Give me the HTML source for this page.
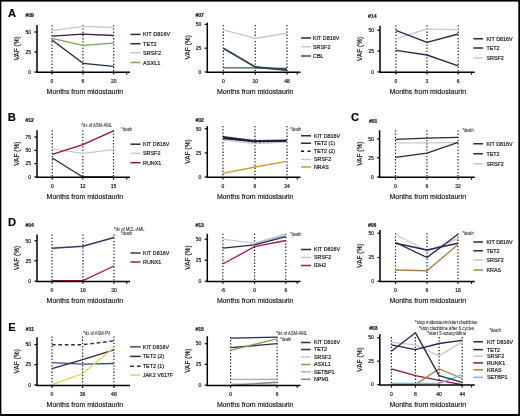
<!DOCTYPE html>
<html><head><meta charset="utf-8"><style>
html,body{margin:0;padding:0;background:#fff;}
#fig{position:relative;width:520px;height:416px;overflow:hidden;background:#fff;}
svg{position:absolute;left:0;top:0;font-family:"Liberation Sans", sans-serif;}
text{-webkit-font-smoothing:antialiased;stroke:#222;stroke-width:0.18px;}
text.ann{stroke:#333;stroke-width:0.05px;}
svg{will-change:transform;}

</style></head><body><div id="fig">
<svg width="520" height="416" viewBox="0 0 520 416">

<g>
<rect x="0" y="0" width="520" height="416" fill="#fff"/>
<line x1="52.00" y1="25.30" x2="52.00" y2="72.00" stroke="#1a1a1a" stroke-width="1.2" stroke-dasharray="1.3,1.9" stroke-linecap="butt"/>
<line x1="83.00" y1="25.30" x2="83.00" y2="72.00" stroke="#1a1a1a" stroke-width="1.2" stroke-dasharray="1.3,1.9" stroke-linecap="butt"/>
<line x1="113.70" y1="25.30" x2="113.70" y2="72.00" stroke="#1a1a1a" stroke-width="1.2" stroke-dasharray="1.3,1.9" stroke-linecap="butt"/>
<polyline points="52.00,30.60 83.00,26.30 113.70,27.50" fill="none" stroke="#c9c9c9" stroke-width="1.35" stroke-linejoin="round" stroke-linecap="butt"/>
<polyline points="52.00,36.20 83.00,34.10 113.70,35.50" fill="none" stroke="#33224a" stroke-width="1.35" stroke-linejoin="round" stroke-linecap="butt"/>
<polyline points="52.00,38.40 83.00,45.30 113.70,43.10" fill="none" stroke="#79a653" stroke-width="1.35" stroke-linejoin="round" stroke-linecap="butt"/>
<polyline points="52.00,40.00 83.00,63.30 113.70,66.40" fill="none" stroke="#1f2d4a" stroke-width="1.35" stroke-linejoin="round" stroke-linecap="butt"/>
<line x1="37.00" y1="24.90" x2="37.00" y2="72.70" stroke="#000" stroke-width="1.5" stroke-linecap="butt"/>
<line x1="36.30" y1="72.20" x2="130.00" y2="72.20" stroke="#000" stroke-width="1.45" stroke-linecap="butt"/>
<line x1="34.40" y1="32.00" x2="37.00" y2="32.00" stroke="#000" stroke-width="1.2" stroke-linecap="butt"/>
<text x="31.10" y="33.79" font-size="5" text-anchor="end" font-weight="normal" fill="#111">50</text>
<line x1="34.40" y1="52.00" x2="37.00" y2="52.00" stroke="#000" stroke-width="1.2" stroke-linecap="butt"/>
<text x="31.10" y="53.79" font-size="5" text-anchor="end" font-weight="normal" fill="#111">25</text>
<line x1="34.40" y1="72.00" x2="37.00" y2="72.00" stroke="#000" stroke-width="1.2" stroke-linecap="butt"/>
<text x="31.10" y="73.79" font-size="5" text-anchor="end" font-weight="normal" fill="#111">0</text>
<line x1="52.00" y1="72.00" x2="52.00" y2="74.60" stroke="#000" stroke-width="1.2" stroke-linecap="butt"/>
<line x1="83.00" y1="72.00" x2="83.00" y2="74.60" stroke="#000" stroke-width="1.2" stroke-linecap="butt"/>
<line x1="113.70" y1="72.00" x2="113.70" y2="74.60" stroke="#000" stroke-width="1.2" stroke-linecap="butt"/>
<line x1="126.75" y1="72.00" x2="126.75" y2="74.60" stroke="#000" stroke-width="1.2" stroke-linecap="butt"/>
<text x="52.00" y="82.89" font-size="5" text-anchor="middle" font-weight="normal" fill="#111">0</text>
<text x="83.00" y="82.89" font-size="5" text-anchor="middle" font-weight="normal" fill="#111">6</text>
<text x="113.70" y="82.89" font-size="5" text-anchor="middle" font-weight="normal" fill="#111">20</text>
<text transform="translate(19.30,48.45) rotate(-90)" x="0" y="0" font-size="7.3" text-anchor="middle" fill="#111" textLength="24.3" lengthAdjust="spacingAndGlyphs">VAF (%)</text>
<text x="84.90" y="93.75" font-size="7.4" text-anchor="middle" font-weight="normal" fill="#111" textLength="76.6" lengthAdjust="spacingAndGlyphs">Months from midostaurin</text>
<text x="25.40" y="17.03" font-size="5.1" text-anchor="start" font-weight="bold" fill="#111">#09</text>
<line x1="130.40" y1="34.40" x2="140.50" y2="34.40" stroke="#1f2d4a" stroke-width="1.5" stroke-linecap="butt"/>
<text x="143.00" y="36.40" font-size="5.6" text-anchor="start" font-weight="normal" fill="#111">KIT D816V</text>
<line x1="130.40" y1="43.70" x2="140.50" y2="43.70" stroke="#33224a" stroke-width="1.5" stroke-linecap="butt"/>
<text x="143.00" y="45.70" font-size="5.6" text-anchor="start" font-weight="normal" fill="#111">TET2</text>
<line x1="130.40" y1="52.80" x2="140.50" y2="52.80" stroke="#c9c9c9" stroke-width="1.5" stroke-linecap="butt"/>
<text x="143.00" y="54.80" font-size="5.6" text-anchor="start" font-weight="normal" fill="#111">SRSF2</text>
<line x1="130.40" y1="62.50" x2="140.50" y2="62.50" stroke="#79a653" stroke-width="1.5" stroke-linecap="butt"/>
<text x="143.00" y="64.50" font-size="5.6" text-anchor="start" font-weight="normal" fill="#111">ASXL1</text>
<line x1="223.30" y1="25.00" x2="223.30" y2="72.00" stroke="#1a1a1a" stroke-width="1.2" stroke-dasharray="1.3,1.9" stroke-linecap="butt"/>
<line x1="255.30" y1="25.00" x2="255.30" y2="72.00" stroke="#1a1a1a" stroke-width="1.2" stroke-dasharray="1.3,1.9" stroke-linecap="butt"/>
<line x1="287.00" y1="25.00" x2="287.00" y2="72.00" stroke="#1a1a1a" stroke-width="1.2" stroke-dasharray="1.3,1.9" stroke-linecap="butt"/>
<polyline points="223.30,29.90 255.30,38.50 287.00,33.00" fill="none" stroke="#c9c9c9" stroke-width="1.35" stroke-linejoin="round" stroke-linecap="butt"/>
<polyline points="255.30,67.60 287.00,69.60" fill="none" stroke="#7d9bb3" stroke-width="1.3" stroke-linejoin="round" stroke-linecap="butt"/>
<polyline points="223.30,67.90 255.30,67.90 287.00,68.40" fill="none" stroke="#3b5a58" stroke-width="1.35" stroke-linejoin="round" stroke-linecap="butt"/>
<polyline points="223.30,48.20 255.30,67.00 287.00,70.10" fill="none" stroke="#2a3d52" stroke-width="1.9" stroke-linejoin="round" stroke-linecap="butt"/>
<line x1="207.30" y1="22.60" x2="207.30" y2="72.70" stroke="#000" stroke-width="1.5" stroke-linecap="butt"/>
<line x1="206.60" y1="72.20" x2="300.50" y2="72.20" stroke="#000" stroke-width="1.45" stroke-linecap="butt"/>
<line x1="204.70" y1="24.40" x2="207.30" y2="24.40" stroke="#000" stroke-width="1.2" stroke-linecap="butt"/>
<text x="201.40" y="26.19" font-size="5" text-anchor="end" font-weight="normal" fill="#111">50</text>
<line x1="204.70" y1="48.20" x2="207.30" y2="48.20" stroke="#000" stroke-width="1.2" stroke-linecap="butt"/>
<text x="201.40" y="49.99" font-size="5" text-anchor="end" font-weight="normal" fill="#111">25</text>
<line x1="204.70" y1="72.00" x2="207.30" y2="72.00" stroke="#000" stroke-width="1.2" stroke-linecap="butt"/>
<text x="201.40" y="73.79" font-size="5" text-anchor="end" font-weight="normal" fill="#111">0</text>
<line x1="223.30" y1="72.00" x2="223.30" y2="74.60" stroke="#000" stroke-width="1.2" stroke-linecap="butt"/>
<line x1="255.30" y1="72.00" x2="255.30" y2="74.60" stroke="#000" stroke-width="1.2" stroke-linecap="butt"/>
<line x1="287.00" y1="72.00" x2="287.00" y2="74.60" stroke="#000" stroke-width="1.2" stroke-linecap="butt"/>
<line x1="297.25" y1="72.00" x2="297.25" y2="74.60" stroke="#000" stroke-width="1.2" stroke-linecap="butt"/>
<text x="223.30" y="82.89" font-size="5" text-anchor="middle" font-weight="normal" fill="#111">0</text>
<text x="255.30" y="82.89" font-size="5" text-anchor="middle" font-weight="normal" fill="#111">10</text>
<text x="287.00" y="82.89" font-size="5" text-anchor="middle" font-weight="normal" fill="#111">48</text>
<text transform="translate(189.60,47.30) rotate(-90)" x="0" y="0" font-size="7.3" text-anchor="middle" fill="#111" textLength="24.3" lengthAdjust="spacingAndGlyphs">VAF (%)</text>
<text x="255.20" y="93.75" font-size="7.4" text-anchor="middle" font-weight="normal" fill="#111" textLength="76.6" lengthAdjust="spacingAndGlyphs">Months from midostaurin</text>
<text x="195.40" y="17.43" font-size="5.1" text-anchor="start" font-weight="bold" fill="#111">#07</text>
<line x1="301.00" y1="38.00" x2="311.00" y2="38.00" stroke="#1f2d4a" stroke-width="1.5" stroke-linecap="butt"/>
<text x="313.00" y="39.93" font-size="5.4" text-anchor="start" font-weight="normal" fill="#111">KIT D816V</text>
<line x1="301.00" y1="46.75" x2="311.00" y2="46.75" stroke="#c9c9c9" stroke-width="1.5" stroke-linecap="butt"/>
<text x="313.00" y="48.68" font-size="5.4" text-anchor="start" font-weight="normal" fill="#111">SRSF2</text>
<line x1="301.00" y1="56.00" x2="311.00" y2="56.00" stroke="#2f4f4f" stroke-width="1.5" stroke-linecap="butt"/>
<text x="313.00" y="57.93" font-size="5.4" text-anchor="start" font-weight="normal" fill="#111">CBL</text>
<line x1="395.90" y1="25.20" x2="395.90" y2="72.00" stroke="#1a1a1a" stroke-width="1.2" stroke-dasharray="1.3,1.9" stroke-linecap="butt"/>
<line x1="427.00" y1="25.20" x2="427.00" y2="72.00" stroke="#1a1a1a" stroke-width="1.2" stroke-dasharray="1.3,1.9" stroke-linecap="butt"/>
<line x1="458.20" y1="25.20" x2="458.20" y2="72.00" stroke="#1a1a1a" stroke-width="1.2" stroke-dasharray="1.3,1.9" stroke-linecap="butt"/>
<polyline points="395.90,38.90 427.00,28.90 458.20,29.90" fill="none" stroke="#c9c9c9" stroke-width="1.35" stroke-linejoin="round" stroke-linecap="butt"/>
<polyline points="395.90,30.30 427.00,42.30 458.20,34.00" fill="none" stroke="#33224a" stroke-width="1.35" stroke-linejoin="round" stroke-linecap="butt"/>
<polyline points="395.90,50.40 427.00,55.00 458.20,65.90" fill="none" stroke="#1f2d4a" stroke-width="1.35" stroke-linejoin="round" stroke-linecap="butt"/>
<line x1="380.00" y1="25.70" x2="380.00" y2="72.70" stroke="#000" stroke-width="1.5" stroke-linecap="butt"/>
<line x1="379.30" y1="72.20" x2="474.75" y2="72.20" stroke="#000" stroke-width="1.45" stroke-linecap="butt"/>
<line x1="377.40" y1="30.30" x2="380.00" y2="30.30" stroke="#000" stroke-width="1.2" stroke-linecap="butt"/>
<text x="374.10" y="32.09" font-size="5" text-anchor="end" font-weight="normal" fill="#111">50</text>
<line x1="377.40" y1="51.10" x2="380.00" y2="51.10" stroke="#000" stroke-width="1.2" stroke-linecap="butt"/>
<text x="374.10" y="52.89" font-size="5" text-anchor="end" font-weight="normal" fill="#111">25</text>
<line x1="377.40" y1="71.90" x2="380.00" y2="71.90" stroke="#000" stroke-width="1.2" stroke-linecap="butt"/>
<text x="374.10" y="73.69" font-size="5" text-anchor="end" font-weight="normal" fill="#111">0</text>
<line x1="395.90" y1="72.00" x2="395.90" y2="74.60" stroke="#000" stroke-width="1.2" stroke-linecap="butt"/>
<line x1="427.00" y1="72.00" x2="427.00" y2="74.60" stroke="#000" stroke-width="1.2" stroke-linecap="butt"/>
<line x1="458.20" y1="72.00" x2="458.20" y2="74.60" stroke="#000" stroke-width="1.2" stroke-linecap="butt"/>
<line x1="471.50" y1="72.00" x2="471.50" y2="74.60" stroke="#000" stroke-width="1.2" stroke-linecap="butt"/>
<text x="395.90" y="82.89" font-size="5" text-anchor="middle" font-weight="normal" fill="#111">0</text>
<text x="427.00" y="82.89" font-size="5" text-anchor="middle" font-weight="normal" fill="#111">3</text>
<text x="458.20" y="82.89" font-size="5" text-anchor="middle" font-weight="normal" fill="#111">6</text>
<text transform="translate(362.30,48.85) rotate(-90)" x="0" y="0" font-size="7.3" text-anchor="middle" fill="#111" textLength="24.3" lengthAdjust="spacingAndGlyphs">VAF (%)</text>
<text x="427.80" y="93.75" font-size="7.4" text-anchor="middle" font-weight="normal" fill="#111" textLength="76.6" lengthAdjust="spacingAndGlyphs">Months from midostaurin</text>
<text x="368.10" y="17.53" font-size="5.1" text-anchor="start" font-weight="bold" fill="#111">#14</text>
<line x1="473.30" y1="38.75" x2="483.00" y2="38.75" stroke="#1f2d4a" stroke-width="1.5" stroke-linecap="butt"/>
<text x="486.40" y="40.68" font-size="5.4" text-anchor="start" font-weight="normal" fill="#111">KIT D816V</text>
<line x1="473.30" y1="48.00" x2="483.00" y2="48.00" stroke="#33224a" stroke-width="1.5" stroke-linecap="butt"/>
<text x="486.40" y="49.93" font-size="5.4" text-anchor="start" font-weight="normal" fill="#111">TET2</text>
<line x1="473.30" y1="58.00" x2="483.00" y2="58.00" stroke="#c9c9c9" stroke-width="1.5" stroke-linecap="butt"/>
<text x="486.40" y="59.93" font-size="5.4" text-anchor="start" font-weight="normal" fill="#111">SRSF2</text>
<line x1="52.30" y1="130.30" x2="52.30" y2="177.00" stroke="#1a1a1a" stroke-width="1.2" stroke-dasharray="1.3,1.9" stroke-linecap="butt"/>
<line x1="82.80" y1="130.30" x2="82.80" y2="177.00" stroke="#1a1a1a" stroke-width="1.2" stroke-dasharray="1.3,1.9" stroke-linecap="butt"/>
<line x1="113.50" y1="130.30" x2="113.50" y2="177.00" stroke="#1a1a1a" stroke-width="1.2" stroke-dasharray="1.3,1.9" stroke-linecap="butt"/>
<polyline points="52.30,148.80 82.80,153.40 113.50,149.70" fill="none" stroke="#c9c9c9" stroke-width="1.35" stroke-linejoin="round" stroke-linecap="butt"/>
<polyline points="52.30,158.00 82.80,177.00 113.50,177.00" fill="none" stroke="#1f2d4a" stroke-width="1.35" stroke-linejoin="round" stroke-linecap="butt"/>
<polyline points="52.30,154.30 82.80,144.60 113.50,130.80" fill="none" stroke="#8e1436" stroke-width="1.35" stroke-linejoin="round" stroke-linecap="butt"/>
<line x1="37.00" y1="130.30" x2="37.00" y2="177.70" stroke="#000" stroke-width="1.5" stroke-linecap="butt"/>
<line x1="36.30" y1="177.20" x2="130.00" y2="177.20" stroke="#000" stroke-width="1.45" stroke-linecap="butt"/>
<line x1="34.40" y1="137.00" x2="37.00" y2="137.00" stroke="#000" stroke-width="1.2" stroke-linecap="butt"/>
<text x="31.10" y="138.79" font-size="5" text-anchor="end" font-weight="normal" fill="#111">75</text>
<line x1="34.40" y1="150.40" x2="37.00" y2="150.40" stroke="#000" stroke-width="1.2" stroke-linecap="butt"/>
<text x="31.10" y="152.19" font-size="5" text-anchor="end" font-weight="normal" fill="#111">50</text>
<line x1="34.40" y1="163.60" x2="37.00" y2="163.60" stroke="#000" stroke-width="1.2" stroke-linecap="butt"/>
<text x="31.10" y="165.39" font-size="5" text-anchor="end" font-weight="normal" fill="#111">25</text>
<line x1="34.40" y1="177.00" x2="37.00" y2="177.00" stroke="#000" stroke-width="1.2" stroke-linecap="butt"/>
<text x="31.10" y="178.79" font-size="5" text-anchor="end" font-weight="normal" fill="#111">0</text>
<line x1="52.30" y1="177.00" x2="52.30" y2="179.60" stroke="#000" stroke-width="1.2" stroke-linecap="butt"/>
<line x1="82.80" y1="177.00" x2="82.80" y2="179.60" stroke="#000" stroke-width="1.2" stroke-linecap="butt"/>
<line x1="113.50" y1="177.00" x2="113.50" y2="179.60" stroke="#000" stroke-width="1.2" stroke-linecap="butt"/>
<line x1="126.75" y1="177.00" x2="126.75" y2="179.60" stroke="#000" stroke-width="1.2" stroke-linecap="butt"/>
<text x="52.30" y="187.89" font-size="5" text-anchor="middle" font-weight="normal" fill="#111">0</text>
<text x="82.80" y="187.89" font-size="5" text-anchor="middle" font-weight="normal" fill="#111">12</text>
<text x="113.50" y="187.89" font-size="5" text-anchor="middle" font-weight="normal" fill="#111">15</text>
<text transform="translate(19.30,153.65) rotate(-90)" x="0" y="0" font-size="7.3" text-anchor="middle" fill="#111" textLength="24.3" lengthAdjust="spacingAndGlyphs">VAF (%)</text>
<text x="84.90" y="198.75" font-size="7.4" text-anchor="middle" font-weight="normal" fill="#111" textLength="76.6" lengthAdjust="spacingAndGlyphs">Months from midostaurin</text>
<text x="25.40" y="122.13" font-size="5.1" text-anchor="start" font-weight="bold" fill="#111">#12</text>
<line x1="130.40" y1="144.20" x2="140.50" y2="144.20" stroke="#1f2d4a" stroke-width="1.5" stroke-linecap="butt"/>
<text x="143.00" y="146.13" font-size="5.4" text-anchor="start" font-weight="normal" fill="#111">KIT D816V</text>
<line x1="130.40" y1="153.40" x2="140.50" y2="153.40" stroke="#c9c9c9" stroke-width="1.5" stroke-linecap="butt"/>
<text x="143.00" y="155.33" font-size="5.4" text-anchor="start" font-weight="normal" fill="#111">SRSF2</text>
<line x1="130.40" y1="162.70" x2="140.50" y2="162.70" stroke="#8e1436" stroke-width="1.5" stroke-linecap="butt"/>
<text x="143.00" y="164.63" font-size="5.4" text-anchor="start" font-weight="normal" fill="#111">RUNX1</text>
<text class="ann" x="81.50" y="126.75" font-size="4.6" text-anchor="start" font-weight="normal" fill="#222" textLength="30.5" lengthAdjust="spacingAndGlyphs">*dx of ASM-AML</text>
<text class="ann" x="121.30" y="131.15" font-size="4.6" text-anchor="start" font-weight="normal" fill="#222" textLength="10.8" lengthAdjust="spacingAndGlyphs">*death</text>
<line x1="223.00" y1="126.00" x2="223.00" y2="177.00" stroke="#1a1a1a" stroke-width="1.2" stroke-dasharray="1.3,1.9" stroke-linecap="butt"/>
<line x1="255.00" y1="126.00" x2="255.00" y2="177.00" stroke="#1a1a1a" stroke-width="1.2" stroke-dasharray="1.3,1.9" stroke-linecap="butt"/>
<line x1="287.00" y1="126.00" x2="287.00" y2="177.00" stroke="#1a1a1a" stroke-width="1.2" stroke-dasharray="1.3,1.9" stroke-linecap="butt"/>
<polyline points="223.00,139.80 255.00,143.50 287.00,142.00" fill="none" stroke="#c9c9c9" stroke-width="1.35" stroke-linejoin="round" stroke-linecap="butt"/>
<polyline points="223.00,138.50 255.00,141.30 287.00,141.00" fill="none" stroke="#1f2d4a" stroke-width="1.35" stroke-linejoin="round" stroke-linecap="butt"/>
<polyline points="223.00,137.00 255.00,141.00 287.00,140.30" fill="none" stroke="#33224a" stroke-width="1.8" stroke-linejoin="round" stroke-linecap="butt"/>
<polyline points="223.00,138.00 255.00,142.00 287.00,141.00" fill="none" stroke="#111111" stroke-width="1.2" stroke-dasharray="2.5,1.5" stroke-linejoin="round" stroke-linecap="butt"/>
<polyline points="223.00,173.30 255.00,167.00 287.00,161.30" fill="none" stroke="#cf9a2c" stroke-width="1.35" stroke-linejoin="round" stroke-linecap="butt"/>
<line x1="207.30" y1="126.00" x2="207.30" y2="177.70" stroke="#000" stroke-width="1.5" stroke-linecap="butt"/>
<line x1="206.60" y1="177.20" x2="300.50" y2="177.20" stroke="#000" stroke-width="1.45" stroke-linecap="butt"/>
<line x1="204.70" y1="128.75" x2="207.30" y2="128.75" stroke="#000" stroke-width="1.2" stroke-linecap="butt"/>
<text x="201.40" y="130.54" font-size="5" text-anchor="end" font-weight="normal" fill="#111">50</text>
<line x1="204.70" y1="153.00" x2="207.30" y2="153.00" stroke="#000" stroke-width="1.2" stroke-linecap="butt"/>
<text x="201.40" y="154.79" font-size="5" text-anchor="end" font-weight="normal" fill="#111">25</text>
<line x1="204.70" y1="177.00" x2="207.30" y2="177.00" stroke="#000" stroke-width="1.2" stroke-linecap="butt"/>
<text x="201.40" y="178.79" font-size="5" text-anchor="end" font-weight="normal" fill="#111">0</text>
<line x1="223.00" y1="177.00" x2="223.00" y2="179.60" stroke="#000" stroke-width="1.2" stroke-linecap="butt"/>
<line x1="255.00" y1="177.00" x2="255.00" y2="179.60" stroke="#000" stroke-width="1.2" stroke-linecap="butt"/>
<line x1="287.00" y1="177.00" x2="287.00" y2="179.60" stroke="#000" stroke-width="1.2" stroke-linecap="butt"/>
<line x1="297.25" y1="177.00" x2="297.25" y2="179.60" stroke="#000" stroke-width="1.2" stroke-linecap="butt"/>
<text x="223.00" y="187.89" font-size="5" text-anchor="middle" font-weight="normal" fill="#111">0</text>
<text x="255.00" y="187.89" font-size="5" text-anchor="middle" font-weight="normal" fill="#111">6</text>
<text x="287.00" y="187.89" font-size="5" text-anchor="middle" font-weight="normal" fill="#111">24</text>
<text transform="translate(189.60,151.50) rotate(-90)" x="0" y="0" font-size="7.3" text-anchor="middle" fill="#111" textLength="24.3" lengthAdjust="spacingAndGlyphs">VAF (%)</text>
<text x="255.20" y="198.75" font-size="7.4" text-anchor="middle" font-weight="normal" fill="#111" textLength="76.6" lengthAdjust="spacingAndGlyphs">Months from midostaurin</text>
<text x="195.40" y="121.93" font-size="5.1" text-anchor="start" font-weight="bold" fill="#111">#02</text>
<line x1="301.00" y1="135.75" x2="311.00" y2="135.75" stroke="#1f2d4a" stroke-width="1.5" stroke-linecap="butt"/>
<text x="313.90" y="137.68" font-size="5.4" text-anchor="start" font-weight="normal" fill="#111">KIT D816V</text>
<line x1="301.00" y1="143.25" x2="311.00" y2="143.25" stroke="#33224a" stroke-width="1.5" stroke-linecap="butt"/>
<text x="313.90" y="145.18" font-size="5.4" text-anchor="start" font-weight="normal" fill="#111">TET2 (1)</text>
<line x1="301.00" y1="151.25" x2="311.00" y2="151.25" stroke="#111" stroke-width="1.5" stroke-dasharray="3,3.6" stroke-linecap="butt"/>
<text x="313.90" y="153.18" font-size="5.4" text-anchor="start" font-weight="normal" fill="#111">TET2 (2)</text>
<line x1="301.00" y1="159.50" x2="311.00" y2="159.50" stroke="#c9c9c9" stroke-width="1.5" stroke-linecap="butt"/>
<text x="313.90" y="161.43" font-size="5.4" text-anchor="start" font-weight="normal" fill="#111">SRSF2</text>
<line x1="301.00" y1="167.00" x2="311.00" y2="167.00" stroke="#cf9a2c" stroke-width="1.5" stroke-linecap="butt"/>
<text x="313.90" y="168.93" font-size="5.4" text-anchor="start" font-weight="normal" fill="#111">NRAS</text>
<text class="ann" x="290.20" y="130.65" font-size="4.6" text-anchor="start" font-weight="normal" fill="#222" textLength="11" lengthAdjust="spacingAndGlyphs">*death</text>
<line x1="395.50" y1="130.30" x2="395.50" y2="177.00" stroke="#1a1a1a" stroke-width="1.2" stroke-dasharray="1.3,1.9" stroke-linecap="butt"/>
<line x1="426.90" y1="130.30" x2="426.90" y2="177.00" stroke="#1a1a1a" stroke-width="1.2" stroke-dasharray="1.3,1.9" stroke-linecap="butt"/>
<line x1="458.10" y1="130.30" x2="458.10" y2="177.00" stroke="#1a1a1a" stroke-width="1.2" stroke-dasharray="1.3,1.9" stroke-linecap="butt"/>
<polyline points="395.50,142.80 426.90,142.80 458.10,142.60" fill="none" stroke="#c9c9c9" stroke-width="1.35" stroke-linejoin="round" stroke-linecap="butt"/>
<polyline points="395.50,139.30 426.90,138.20 458.10,137.30" fill="none" stroke="#33224a" stroke-width="1.35" stroke-linejoin="round" stroke-linecap="butt"/>
<polyline points="395.50,157.30 426.90,153.20 458.10,142.30" fill="none" stroke="#1f2d4a" stroke-width="1.35" stroke-linejoin="round" stroke-linecap="butt"/>
<line x1="379.60" y1="130.30" x2="379.60" y2="177.70" stroke="#000" stroke-width="1.5" stroke-linecap="butt"/>
<line x1="378.90" y1="177.20" x2="474.75" y2="177.20" stroke="#000" stroke-width="1.45" stroke-linecap="butt"/>
<line x1="377.00" y1="138.90" x2="379.60" y2="138.90" stroke="#000" stroke-width="1.2" stroke-linecap="butt"/>
<text x="373.70" y="140.69" font-size="5" text-anchor="end" font-weight="normal" fill="#111">50</text>
<line x1="377.00" y1="157.80" x2="379.60" y2="157.80" stroke="#000" stroke-width="1.2" stroke-linecap="butt"/>
<text x="373.70" y="159.59" font-size="5" text-anchor="end" font-weight="normal" fill="#111">25</text>
<line x1="377.00" y1="177.00" x2="379.60" y2="177.00" stroke="#000" stroke-width="1.2" stroke-linecap="butt"/>
<text x="373.70" y="178.79" font-size="5" text-anchor="end" font-weight="normal" fill="#111">0</text>
<line x1="395.50" y1="177.00" x2="395.50" y2="179.60" stroke="#000" stroke-width="1.2" stroke-linecap="butt"/>
<line x1="426.90" y1="177.00" x2="426.90" y2="179.60" stroke="#000" stroke-width="1.2" stroke-linecap="butt"/>
<line x1="458.10" y1="177.00" x2="458.10" y2="179.60" stroke="#000" stroke-width="1.2" stroke-linecap="butt"/>
<line x1="471.50" y1="177.00" x2="471.50" y2="179.60" stroke="#000" stroke-width="1.2" stroke-linecap="butt"/>
<text x="395.50" y="187.89" font-size="5" text-anchor="middle" font-weight="normal" fill="#111">0</text>
<text x="426.90" y="187.89" font-size="5" text-anchor="middle" font-weight="normal" fill="#111">6</text>
<text x="458.10" y="187.89" font-size="5" text-anchor="middle" font-weight="normal" fill="#111">32</text>
<text transform="translate(361.90,153.65) rotate(-90)" x="0" y="0" font-size="7.3" text-anchor="middle" fill="#111" textLength="24.3" lengthAdjust="spacingAndGlyphs">VAF (%)</text>
<text x="427.80" y="198.75" font-size="7.4" text-anchor="middle" font-weight="normal" fill="#111" textLength="76.6" lengthAdjust="spacingAndGlyphs">Months from midostaurin</text>
<text x="368.90" y="122.83" font-size="5.1" text-anchor="start" font-weight="bold" fill="#111">#01</text>
<line x1="473.30" y1="143.75" x2="483.00" y2="143.75" stroke="#1f2d4a" stroke-width="1.5" stroke-linecap="butt"/>
<text x="486.40" y="145.68" font-size="5.4" text-anchor="start" font-weight="normal" fill="#111">KIT D816V</text>
<line x1="473.30" y1="153.75" x2="483.00" y2="153.75" stroke="#33224a" stroke-width="1.5" stroke-linecap="butt"/>
<text x="486.40" y="155.68" font-size="5.4" text-anchor="start" font-weight="normal" fill="#111">TET2</text>
<line x1="473.30" y1="163.75" x2="483.00" y2="163.75" stroke="#c9c9c9" stroke-width="1.5" stroke-linecap="butt"/>
<text x="486.40" y="165.68" font-size="5.4" text-anchor="start" font-weight="normal" fill="#111">SRSF2</text>
<text class="ann" x="462.50" y="131.65" font-size="4.6" text-anchor="start" font-weight="normal" fill="#222" textLength="11" lengthAdjust="spacingAndGlyphs">*death</text>
<line x1="52.00" y1="234.50" x2="52.00" y2="281.25" stroke="#1a1a1a" stroke-width="1.2" stroke-dasharray="1.3,1.9" stroke-linecap="butt"/>
<line x1="83.00" y1="234.50" x2="83.00" y2="281.25" stroke="#1a1a1a" stroke-width="1.2" stroke-dasharray="1.3,1.9" stroke-linecap="butt"/>
<line x1="114.00" y1="234.50" x2="114.00" y2="281.25" stroke="#1a1a1a" stroke-width="1.2" stroke-dasharray="1.3,1.9" stroke-linecap="butt"/>
<polyline points="52.00,248.25 83.00,246.25 114.00,237.50" fill="none" stroke="#2b3a66" stroke-width="1.35" stroke-linejoin="round" stroke-linecap="butt"/>
<polyline points="52.00,280.60 83.00,280.60 114.00,266.00" fill="none" stroke="#9c1a44" stroke-width="1.35" stroke-linejoin="round" stroke-linecap="butt"/>
<line x1="37.00" y1="234.50" x2="37.00" y2="281.95" stroke="#000" stroke-width="1.5" stroke-linecap="butt"/>
<line x1="36.30" y1="281.45" x2="130.00" y2="281.45" stroke="#000" stroke-width="1.45" stroke-linecap="butt"/>
<line x1="34.40" y1="240.75" x2="37.00" y2="240.75" stroke="#000" stroke-width="1.2" stroke-linecap="butt"/>
<text x="31.10" y="242.54" font-size="5" text-anchor="end" font-weight="normal" fill="#111">50</text>
<line x1="34.40" y1="260.75" x2="37.00" y2="260.75" stroke="#000" stroke-width="1.2" stroke-linecap="butt"/>
<text x="31.10" y="262.54" font-size="5" text-anchor="end" font-weight="normal" fill="#111">25</text>
<line x1="34.40" y1="281.25" x2="37.00" y2="281.25" stroke="#000" stroke-width="1.2" stroke-linecap="butt"/>
<text x="31.10" y="283.04" font-size="5" text-anchor="end" font-weight="normal" fill="#111">0</text>
<line x1="52.00" y1="281.25" x2="52.00" y2="283.85" stroke="#000" stroke-width="1.2" stroke-linecap="butt"/>
<line x1="83.00" y1="281.25" x2="83.00" y2="283.85" stroke="#000" stroke-width="1.2" stroke-linecap="butt"/>
<line x1="114.00" y1="281.25" x2="114.00" y2="283.85" stroke="#000" stroke-width="1.2" stroke-linecap="butt"/>
<line x1="126.75" y1="281.25" x2="126.75" y2="283.85" stroke="#000" stroke-width="1.2" stroke-linecap="butt"/>
<text x="52.00" y="292.14" font-size="5" text-anchor="middle" font-weight="normal" fill="#111">0</text>
<text x="83.00" y="292.14" font-size="5" text-anchor="middle" font-weight="normal" fill="#111">16</text>
<text x="114.00" y="292.14" font-size="5" text-anchor="middle" font-weight="normal" fill="#111">30</text>
<text transform="translate(19.30,257.88) rotate(-90)" x="0" y="0" font-size="7.3" text-anchor="middle" fill="#111" textLength="24.3" lengthAdjust="spacingAndGlyphs">VAF (%)</text>
<text x="84.90" y="303.00" font-size="7.4" text-anchor="middle" font-weight="normal" fill="#111" textLength="76.6" lengthAdjust="spacingAndGlyphs">Months from midostaurin</text>
<text x="25.40" y="226.93" font-size="5.1" text-anchor="start" font-weight="bold" fill="#111">#04</text>
<line x1="130.40" y1="253.00" x2="140.50" y2="253.00" stroke="#2b3a66" stroke-width="1.5" stroke-linecap="butt"/>
<text x="143.00" y="254.93" font-size="5.4" text-anchor="start" font-weight="normal" fill="#111">KIT D816V</text>
<line x1="130.40" y1="262.00" x2="140.50" y2="262.00" stroke="#9c1a44" stroke-width="1.5" stroke-linecap="butt"/>
<text x="143.00" y="263.93" font-size="5.4" text-anchor="start" font-weight="normal" fill="#111">RUNX1</text>
<text class="ann" x="113.90" y="231.15" font-size="4.6" text-anchor="start" font-weight="normal" fill="#222" textLength="30.8" lengthAdjust="spacingAndGlyphs">*dx of MCL-AML</text>
<text class="ann" x="121.00" y="235.25" font-size="4.6" text-anchor="start" font-weight="normal" fill="#222" textLength="11" lengthAdjust="spacingAndGlyphs">*death</text>
<line x1="222.90" y1="233.80" x2="222.90" y2="281.25" stroke="#1a1a1a" stroke-width="1.2" stroke-dasharray="1.3,1.9" stroke-linecap="butt"/>
<line x1="254.60" y1="233.80" x2="254.60" y2="281.25" stroke="#1a1a1a" stroke-width="1.2" stroke-dasharray="1.3,1.9" stroke-linecap="butt"/>
<line x1="285.80" y1="233.80" x2="285.80" y2="281.25" stroke="#1a1a1a" stroke-width="1.2" stroke-dasharray="1.3,1.9" stroke-linecap="butt"/>
<polyline points="222.90,239.20 254.60,243.40 285.80,235.30" fill="none" stroke="#cfc8c0" stroke-width="1.35" stroke-linejoin="round" stroke-linecap="butt"/>
<polyline points="254.60,243.60 285.80,234.30" fill="none" stroke="#a9c2dc" stroke-width="1.8" stroke-linejoin="round" stroke-linecap="butt"/>
<polyline points="222.90,248.20 254.60,244.90 285.80,236.70" fill="none" stroke="#1f2d4a" stroke-width="1.35" stroke-linejoin="round" stroke-linecap="butt"/>
<polyline points="222.90,264.00 254.60,246.70 285.80,240.50" fill="none" stroke="#a81556" stroke-width="1.35" stroke-linejoin="round" stroke-linecap="butt"/>
<line x1="207.30" y1="233.80" x2="207.30" y2="281.95" stroke="#000" stroke-width="1.5" stroke-linecap="butt"/>
<line x1="206.60" y1="281.45" x2="300.50" y2="281.45" stroke="#000" stroke-width="1.45" stroke-linecap="butt"/>
<line x1="204.70" y1="239.20" x2="207.30" y2="239.20" stroke="#000" stroke-width="1.2" stroke-linecap="butt"/>
<text x="201.40" y="240.99" font-size="5" text-anchor="end" font-weight="normal" fill="#111">50</text>
<line x1="204.70" y1="260.30" x2="207.30" y2="260.30" stroke="#000" stroke-width="1.2" stroke-linecap="butt"/>
<text x="201.40" y="262.09" font-size="5" text-anchor="end" font-weight="normal" fill="#111">25</text>
<line x1="204.70" y1="281.25" x2="207.30" y2="281.25" stroke="#000" stroke-width="1.2" stroke-linecap="butt"/>
<text x="201.40" y="283.04" font-size="5" text-anchor="end" font-weight="normal" fill="#111">0</text>
<line x1="222.90" y1="281.25" x2="222.90" y2="283.85" stroke="#000" stroke-width="1.2" stroke-linecap="butt"/>
<line x1="254.60" y1="281.25" x2="254.60" y2="283.85" stroke="#000" stroke-width="1.2" stroke-linecap="butt"/>
<line x1="285.80" y1="281.25" x2="285.80" y2="283.85" stroke="#000" stroke-width="1.2" stroke-linecap="butt"/>
<line x1="297.25" y1="281.25" x2="297.25" y2="283.85" stroke="#000" stroke-width="1.2" stroke-linecap="butt"/>
<text x="222.90" y="292.14" font-size="5" text-anchor="middle" font-weight="normal" fill="#111">-6</text>
<text x="254.60" y="292.14" font-size="5" text-anchor="middle" font-weight="normal" fill="#111">0</text>
<text x="285.80" y="292.14" font-size="5" text-anchor="middle" font-weight="normal" fill="#111">6</text>
<text transform="translate(189.60,257.52) rotate(-90)" x="0" y="0" font-size="7.3" text-anchor="middle" fill="#111" textLength="24.3" lengthAdjust="spacingAndGlyphs">VAF (%)</text>
<text x="255.20" y="303.00" font-size="7.4" text-anchor="middle" font-weight="normal" fill="#111" textLength="76.6" lengthAdjust="spacingAndGlyphs">Months from midostaurin</text>
<text x="195.40" y="226.68" font-size="5.1" text-anchor="start" font-weight="bold" fill="#111">#13</text>
<line x1="301.00" y1="249.50" x2="311.00" y2="249.50" stroke="#1f2d4a" stroke-width="1.5" stroke-linecap="butt"/>
<text x="313.90" y="251.43" font-size="5.4" text-anchor="start" font-weight="normal" fill="#111">KIT D816V</text>
<line x1="301.00" y1="257.50" x2="311.00" y2="257.50" stroke="#c9c9c9" stroke-width="1.5" stroke-linecap="butt"/>
<text x="313.90" y="259.43" font-size="5.4" text-anchor="start" font-weight="normal" fill="#111">SRSF2</text>
<line x1="301.00" y1="265.50" x2="311.00" y2="265.50" stroke="#a81556" stroke-width="1.5" stroke-linecap="butt"/>
<text x="313.90" y="267.43" font-size="5.4" text-anchor="start" font-weight="normal" fill="#111">IDH2</text>
<text class="ann" x="290.30" y="235.95" font-size="4.6" text-anchor="start" font-weight="normal" fill="#222" textLength="11" lengthAdjust="spacingAndGlyphs">*death</text>
<line x1="395.50" y1="233.20" x2="395.50" y2="281.25" stroke="#1a1a1a" stroke-width="1.2" stroke-dasharray="1.3,1.9" stroke-linecap="butt"/>
<line x1="427.00" y1="233.20" x2="427.00" y2="281.25" stroke="#1a1a1a" stroke-width="1.2" stroke-dasharray="1.3,1.9" stroke-linecap="butt"/>
<line x1="458.00" y1="233.20" x2="458.00" y2="281.25" stroke="#1a1a1a" stroke-width="1.2" stroke-dasharray="1.3,1.9" stroke-linecap="butt"/>
<polyline points="395.50,234.25 427.00,251.25 458.00,238.75" fill="none" stroke="#c9c9c9" stroke-width="1.35" stroke-linejoin="round" stroke-linecap="butt"/>
<polyline points="395.50,243.25 427.00,250.00 458.00,243.25" fill="none" stroke="#33224a" stroke-width="1.35" stroke-linejoin="round" stroke-linecap="butt"/>
<polyline points="395.50,242.50 427.00,257.50 458.00,234.25" fill="none" stroke="#1f2d4a" stroke-width="1.35" stroke-linejoin="round" stroke-linecap="butt"/>
<polyline points="395.50,270.00 427.00,270.75 458.00,244.50" fill="none" stroke="#a98044" stroke-width="1.35" stroke-linejoin="round" stroke-linecap="butt"/>
<line x1="380.00" y1="230.00" x2="380.00" y2="281.95" stroke="#000" stroke-width="1.5" stroke-linecap="butt"/>
<line x1="379.30" y1="281.45" x2="474.75" y2="281.45" stroke="#000" stroke-width="1.45" stroke-linecap="butt"/>
<line x1="377.40" y1="233.25" x2="380.00" y2="233.25" stroke="#000" stroke-width="1.2" stroke-linecap="butt"/>
<text x="374.10" y="235.04" font-size="5" text-anchor="end" font-weight="normal" fill="#111">50</text>
<line x1="377.40" y1="257.50" x2="380.00" y2="257.50" stroke="#000" stroke-width="1.2" stroke-linecap="butt"/>
<text x="374.10" y="259.29" font-size="5" text-anchor="end" font-weight="normal" fill="#111">25</text>
<line x1="377.40" y1="281.25" x2="380.00" y2="281.25" stroke="#000" stroke-width="1.2" stroke-linecap="butt"/>
<text x="374.10" y="283.04" font-size="5" text-anchor="end" font-weight="normal" fill="#111">0</text>
<line x1="395.50" y1="281.25" x2="395.50" y2="283.85" stroke="#000" stroke-width="1.2" stroke-linecap="butt"/>
<line x1="427.00" y1="281.25" x2="427.00" y2="283.85" stroke="#000" stroke-width="1.2" stroke-linecap="butt"/>
<line x1="458.00" y1="281.25" x2="458.00" y2="283.85" stroke="#000" stroke-width="1.2" stroke-linecap="butt"/>
<line x1="471.50" y1="281.25" x2="471.50" y2="283.85" stroke="#000" stroke-width="1.2" stroke-linecap="butt"/>
<text x="395.50" y="292.14" font-size="5" text-anchor="middle" font-weight="normal" fill="#111">0</text>
<text x="427.00" y="292.14" font-size="5" text-anchor="middle" font-weight="normal" fill="#111">6</text>
<text x="458.00" y="292.14" font-size="5" text-anchor="middle" font-weight="normal" fill="#111">18</text>
<text transform="translate(362.30,255.62) rotate(-90)" x="0" y="0" font-size="7.3" text-anchor="middle" fill="#111" textLength="24.3" lengthAdjust="spacingAndGlyphs">VAF (%)</text>
<text x="427.80" y="303.00" font-size="7.4" text-anchor="middle" font-weight="normal" fill="#111" textLength="76.6" lengthAdjust="spacingAndGlyphs">Months from midostaurin</text>
<text x="367.90" y="226.68" font-size="5.1" text-anchor="start" font-weight="bold" fill="#111">#06</text>
<line x1="473.30" y1="242.00" x2="483.00" y2="242.00" stroke="#1f2d4a" stroke-width="1.5" stroke-linecap="butt"/>
<text x="486.40" y="243.93" font-size="5.4" text-anchor="start" font-weight="normal" fill="#111">KIT D816V</text>
<line x1="473.30" y1="250.75" x2="483.00" y2="250.75" stroke="#33224a" stroke-width="1.5" stroke-linecap="butt"/>
<text x="486.40" y="252.68" font-size="5.4" text-anchor="start" font-weight="normal" fill="#111">TET2</text>
<line x1="473.30" y1="260.00" x2="483.00" y2="260.00" stroke="#c9c9c9" stroke-width="1.5" stroke-linecap="butt"/>
<text x="486.40" y="261.93" font-size="5.4" text-anchor="start" font-weight="normal" fill="#111">SRSF2</text>
<line x1="473.30" y1="270.00" x2="483.00" y2="270.00" stroke="#a98044" stroke-width="1.5" stroke-linecap="butt"/>
<text x="486.40" y="271.93" font-size="5.4" text-anchor="start" font-weight="normal" fill="#111">KRAS</text>
<text class="ann" x="462.50" y="235.40" font-size="4.6" text-anchor="start" font-weight="normal" fill="#222" textLength="11" lengthAdjust="spacingAndGlyphs">*death</text>
<line x1="52.00" y1="336.40" x2="52.00" y2="385.30" stroke="#1a1a1a" stroke-width="1.2" stroke-dasharray="1.3,1.9" stroke-linecap="butt"/>
<line x1="82.60" y1="336.40" x2="82.60" y2="385.30" stroke="#1a1a1a" stroke-width="1.2" stroke-dasharray="1.3,1.9" stroke-linecap="butt"/>
<line x1="113.90" y1="336.40" x2="113.90" y2="385.30" stroke="#1a1a1a" stroke-width="1.2" stroke-dasharray="1.3,1.9" stroke-linecap="butt"/>
<polyline points="52.00,362.60 82.60,364.10 113.90,363.50" fill="none" stroke="#3a4c8a" stroke-width="1.35" stroke-linejoin="round" stroke-linecap="butt"/>
<polyline points="52.00,368.60 82.60,359.60 113.90,349.80" fill="none" stroke="#2d2848" stroke-width="1.35" stroke-linejoin="round" stroke-linecap="butt"/>
<polyline points="52.00,344.70 82.60,344.70 113.90,340.90" fill="none" stroke="#2a2a3a" stroke-width="1.35" stroke-dasharray="3.6,2.8" stroke-linejoin="round" stroke-linecap="butt"/>
<polyline points="52.00,384.70 82.60,373.60 113.90,347.70" fill="none" stroke="#e8d35e" stroke-width="1.35" stroke-linejoin="round" stroke-linecap="butt"/>
<line x1="37.00" y1="337.30" x2="37.00" y2="386.00" stroke="#000" stroke-width="1.5" stroke-linecap="butt"/>
<line x1="36.30" y1="385.50" x2="130.00" y2="385.50" stroke="#000" stroke-width="1.45" stroke-linecap="butt"/>
<line x1="34.40" y1="344.70" x2="37.00" y2="344.70" stroke="#000" stroke-width="1.2" stroke-linecap="butt"/>
<text x="31.10" y="346.49" font-size="5" text-anchor="end" font-weight="normal" fill="#111">50</text>
<line x1="34.40" y1="364.70" x2="37.00" y2="364.70" stroke="#000" stroke-width="1.2" stroke-linecap="butt"/>
<text x="31.10" y="366.49" font-size="5" text-anchor="end" font-weight="normal" fill="#111">25</text>
<line x1="34.40" y1="384.90" x2="37.00" y2="384.90" stroke="#000" stroke-width="1.2" stroke-linecap="butt"/>
<text x="31.10" y="386.69" font-size="5" text-anchor="end" font-weight="normal" fill="#111">0</text>
<line x1="52.00" y1="385.30" x2="52.00" y2="387.90" stroke="#000" stroke-width="1.2" stroke-linecap="butt"/>
<line x1="82.60" y1="385.30" x2="82.60" y2="387.90" stroke="#000" stroke-width="1.2" stroke-linecap="butt"/>
<line x1="113.90" y1="385.30" x2="113.90" y2="387.90" stroke="#000" stroke-width="1.2" stroke-linecap="butt"/>
<line x1="-100.00" y1="385.30" x2="-100.00" y2="387.90" stroke="#000" stroke-width="1.2" stroke-linecap="butt"/>
<text x="52.00" y="396.19" font-size="5" text-anchor="middle" font-weight="normal" fill="#111">0</text>
<text x="82.60" y="396.19" font-size="5" text-anchor="middle" font-weight="normal" fill="#111">36</text>
<text x="113.90" y="396.19" font-size="5" text-anchor="middle" font-weight="normal" fill="#111">48</text>
<text transform="translate(19.30,361.30) rotate(-90)" x="0" y="0" font-size="7.3" text-anchor="middle" fill="#111" textLength="24.3" lengthAdjust="spacingAndGlyphs">VAF (%)</text>
<text x="84.90" y="407.05" font-size="7.4" text-anchor="middle" font-weight="normal" fill="#111" textLength="76.6" lengthAdjust="spacingAndGlyphs">Months from midostaurin</text>
<text x="25.80" y="330.73" font-size="5.1" text-anchor="start" font-weight="bold" fill="#111">#11</text>
<line x1="130.10" y1="346.80" x2="140.70" y2="346.80" stroke="#3a4c8a" stroke-width="1.5" stroke-linecap="butt"/>
<text x="142.80" y="348.73" font-size="5.4" text-anchor="start" font-weight="normal" fill="#111">KIT D816V</text>
<line x1="130.10" y1="356.40" x2="140.70" y2="356.40" stroke="#2d2848" stroke-width="1.5" stroke-linecap="butt"/>
<text x="142.80" y="358.33" font-size="5.4" text-anchor="start" font-weight="normal" fill="#111">TET2 (2)</text>
<line x1="130.10" y1="366.20" x2="140.70" y2="366.20" stroke="#2a2a3a" stroke-width="1.5" stroke-dasharray="3.7,3.2" stroke-linecap="butt"/>
<text x="142.80" y="368.13" font-size="5.4" text-anchor="start" font-weight="normal" fill="#111">TET2 (1)</text>
<line x1="130.10" y1="375.10" x2="140.70" y2="375.10" stroke="#e8d35e" stroke-width="1.5" stroke-linecap="butt"/>
<text x="142.80" y="377.03" font-size="5.4" text-anchor="start" font-weight="normal" fill="#111">JAK2 V617F</text>
<text class="ann" x="83.50" y="334.95" font-size="4.6" text-anchor="start" font-weight="normal" fill="#222" textLength="26.8" lengthAdjust="spacingAndGlyphs">*dx of ASM-PV</text>
<line x1="230.60" y1="336.90" x2="230.60" y2="385.20" stroke="#1a1a1a" stroke-width="1.2" stroke-dasharray="1.3,1.9" stroke-linecap="butt"/>
<line x1="277.10" y1="336.90" x2="277.10" y2="385.20" stroke="#1a1a1a" stroke-width="1.2" stroke-dasharray="1.3,1.9" stroke-linecap="butt"/>
<polyline points="230.60,384.00 277.10,384.00" fill="none" stroke="#c9c9c9" stroke-width="1.35" stroke-linejoin="round" stroke-linecap="butt"/>
<polyline points="230.60,385.40 277.10,382.10" fill="none" stroke="#8a7fa3" stroke-width="1.35" stroke-linejoin="round" stroke-linecap="butt"/>
<polyline points="230.60,379.40 277.10,379.40" fill="none" stroke="#86b4e0" stroke-width="1.35" stroke-linejoin="round" stroke-linecap="butt"/>
<polyline points="230.60,347.70 277.10,343.70" fill="none" stroke="#33224a" stroke-width="1.35" stroke-linejoin="round" stroke-linecap="butt"/>
<polyline points="230.60,350.40 277.10,338.80" fill="none" stroke="#79a653" stroke-width="1.35" stroke-linejoin="round" stroke-linecap="butt"/>
<polyline points="230.60,338.10 277.10,337.10" fill="none" stroke="#1f2d4a" stroke-width="1.35" stroke-linejoin="round" stroke-linecap="butt"/>
<line x1="207.30" y1="336.20" x2="207.30" y2="385.90" stroke="#000" stroke-width="1.5" stroke-linecap="butt"/>
<line x1="206.60" y1="385.40" x2="300.50" y2="385.40" stroke="#000" stroke-width="1.45" stroke-linecap="butt"/>
<line x1="204.70" y1="343.70" x2="207.30" y2="343.70" stroke="#000" stroke-width="1.2" stroke-linecap="butt"/>
<text x="201.40" y="345.49" font-size="5" text-anchor="end" font-weight="normal" fill="#111">50</text>
<line x1="204.70" y1="364.40" x2="207.30" y2="364.40" stroke="#000" stroke-width="1.2" stroke-linecap="butt"/>
<text x="201.40" y="366.19" font-size="5" text-anchor="end" font-weight="normal" fill="#111">25</text>
<line x1="204.70" y1="385.20" x2="207.30" y2="385.20" stroke="#000" stroke-width="1.2" stroke-linecap="butt"/>
<text x="201.40" y="386.99" font-size="5" text-anchor="end" font-weight="normal" fill="#111">0</text>
<line x1="230.60" y1="385.20" x2="230.60" y2="387.80" stroke="#000" stroke-width="1.2" stroke-linecap="butt"/>
<line x1="277.10" y1="385.20" x2="277.10" y2="387.80" stroke="#000" stroke-width="1.2" stroke-linecap="butt"/>
<line x1="297.25" y1="385.20" x2="297.25" y2="387.80" stroke="#000" stroke-width="1.2" stroke-linecap="butt"/>
<text x="230.60" y="396.09" font-size="5" text-anchor="middle" font-weight="normal" fill="#111">0</text>
<text x="277.10" y="396.09" font-size="5" text-anchor="middle" font-weight="normal" fill="#111">6</text>
<text transform="translate(189.60,360.70) rotate(-90)" x="0" y="0" font-size="7.3" text-anchor="middle" fill="#111" textLength="24.3" lengthAdjust="spacingAndGlyphs">VAF (%)</text>
<text x="255.20" y="406.95" font-size="7.4" text-anchor="middle" font-weight="normal" fill="#111" textLength="76.6" lengthAdjust="spacingAndGlyphs">Months from midostaurin</text>
<text x="195.40" y="331.18" font-size="5.1" text-anchor="start" font-weight="bold" fill="#111">#15</text>
<line x1="301.00" y1="342.50" x2="310.50" y2="342.50" stroke="#1f2d4a" stroke-width="1.5" stroke-linecap="butt"/>
<text x="313.90" y="344.43" font-size="5.4" text-anchor="start" font-weight="normal" fill="#111">KIT D816V</text>
<line x1="301.00" y1="349.50" x2="310.50" y2="349.50" stroke="#33224a" stroke-width="1.5" stroke-linecap="butt"/>
<text x="313.90" y="351.43" font-size="5.4" text-anchor="start" font-weight="normal" fill="#111">TET2</text>
<line x1="301.00" y1="357.00" x2="310.50" y2="357.00" stroke="#c9c9c9" stroke-width="1.5" stroke-linecap="butt"/>
<text x="313.90" y="358.93" font-size="5.4" text-anchor="start" font-weight="normal" fill="#111">SRSF2</text>
<line x1="301.00" y1="364.50" x2="310.50" y2="364.50" stroke="#79a653" stroke-width="1.5" stroke-linecap="butt"/>
<text x="313.90" y="366.43" font-size="5.4" text-anchor="start" font-weight="normal" fill="#111">ASXL1</text>
<line x1="301.00" y1="371.75" x2="310.50" y2="371.75" stroke="#86b4e0" stroke-width="1.5" stroke-linecap="butt"/>
<text x="313.90" y="373.68" font-size="5.4" text-anchor="start" font-weight="normal" fill="#111">SETBP1</text>
<line x1="301.00" y1="379.25" x2="310.50" y2="379.25" stroke="#8a7fa3" stroke-width="1.5" stroke-linecap="butt"/>
<text x="313.90" y="381.18" font-size="5.4" text-anchor="start" font-weight="normal" fill="#111">NPM1</text>
<text class="ann" x="276.30" y="334.55" font-size="4.6" text-anchor="start" font-weight="normal" fill="#222" textLength="30.8" lengthAdjust="spacingAndGlyphs">*dx of ASM-AML</text>
<text class="ann" x="280.20" y="340.65" font-size="4.6" text-anchor="start" font-weight="normal" fill="#222" textLength="11" lengthAdjust="spacingAndGlyphs">*death</text>
<line x1="391.40" y1="337.10" x2="391.40" y2="384.80" stroke="#1a1a1a" stroke-width="1.2" stroke-dasharray="1.3,1.9" stroke-linecap="butt"/>
<line x1="415.40" y1="337.10" x2="415.40" y2="384.80" stroke="#1a1a1a" stroke-width="1.2" stroke-dasharray="1.3,1.9" stroke-linecap="butt"/>
<line x1="439.10" y1="337.10" x2="439.10" y2="384.80" stroke="#1a1a1a" stroke-width="1.2" stroke-dasharray="1.3,1.9" stroke-linecap="butt"/>
<line x1="462.20" y1="337.10" x2="462.20" y2="384.80" stroke="#1a1a1a" stroke-width="1.2" stroke-dasharray="1.3,1.9" stroke-linecap="butt"/>
<polyline points="391.40,342.30 415.40,344.80 439.10,355.80 462.20,341.90" fill="none" stroke="#c9c9c9" stroke-width="1.35" stroke-linejoin="round" stroke-linecap="butt"/>
<polyline points="391.40,368.80 415.40,375.60 439.10,380.40 462.20,384.60" fill="none" stroke="#8e1436" stroke-width="1.35" stroke-linejoin="round" stroke-linecap="butt"/>
<polyline points="391.40,384.60 415.40,384.60 439.10,368.80 462.20,378.50" fill="none" stroke="#a98044" stroke-width="1.35" stroke-linejoin="round" stroke-linecap="butt"/>
<polyline points="391.40,383.50 415.40,383.50 439.10,383.50 462.20,374.60" fill="none" stroke="#86b4e0" stroke-width="1.35" stroke-linejoin="round" stroke-linecap="butt"/>
<polyline points="391.40,344.80 415.40,349.60 439.10,343.50 462.20,340.40" fill="none" stroke="#33224a" stroke-width="1.35" stroke-linejoin="round" stroke-linecap="butt"/>
<polyline points="391.40,351.20 415.40,332.70 439.10,375.60 462.20,382.30" fill="none" stroke="#1f2d4a" stroke-width="1.35" stroke-linejoin="round" stroke-linecap="butt"/>
<line x1="379.80" y1="334.20" x2="379.80" y2="385.50" stroke="#000" stroke-width="1.5" stroke-linecap="butt"/>
<line x1="379.10" y1="385.00" x2="474.75" y2="385.00" stroke="#000" stroke-width="1.45" stroke-linecap="butt"/>
<line x1="377.20" y1="337.70" x2="379.80" y2="337.70" stroke="#000" stroke-width="1.2" stroke-linecap="butt"/>
<text x="373.90" y="339.49" font-size="5" text-anchor="end" font-weight="normal" fill="#111">50</text>
<line x1="377.20" y1="361.20" x2="379.80" y2="361.20" stroke="#000" stroke-width="1.2" stroke-linecap="butt"/>
<text x="373.90" y="362.99" font-size="5" text-anchor="end" font-weight="normal" fill="#111">25</text>
<line x1="377.20" y1="384.60" x2="379.80" y2="384.60" stroke="#000" stroke-width="1.2" stroke-linecap="butt"/>
<text x="373.90" y="386.39" font-size="5" text-anchor="end" font-weight="normal" fill="#111">0</text>
<line x1="391.40" y1="384.80" x2="391.40" y2="387.40" stroke="#000" stroke-width="1.2" stroke-linecap="butt"/>
<line x1="415.40" y1="384.80" x2="415.40" y2="387.40" stroke="#000" stroke-width="1.2" stroke-linecap="butt"/>
<line x1="439.10" y1="384.80" x2="439.10" y2="387.40" stroke="#000" stroke-width="1.2" stroke-linecap="butt"/>
<line x1="462.20" y1="384.80" x2="462.20" y2="387.40" stroke="#000" stroke-width="1.2" stroke-linecap="butt"/>
<line x1="471.50" y1="384.80" x2="471.50" y2="387.40" stroke="#000" stroke-width="1.2" stroke-linecap="butt"/>
<text x="391.40" y="395.69" font-size="5" text-anchor="middle" font-weight="normal" fill="#111">0</text>
<text x="415.40" y="395.69" font-size="5" text-anchor="middle" font-weight="normal" fill="#111">8</text>
<text x="439.10" y="395.69" font-size="5" text-anchor="middle" font-weight="normal" fill="#111">40</text>
<text x="462.20" y="395.69" font-size="5" text-anchor="middle" font-weight="normal" fill="#111">44</text>
<text transform="translate(362.10,359.50) rotate(-90)" x="0" y="0" font-size="7.3" text-anchor="middle" fill="#111" textLength="24.3" lengthAdjust="spacingAndGlyphs">VAF (%)</text>
<text x="427.80" y="406.55" font-size="7.4" text-anchor="middle" font-weight="normal" fill="#111" textLength="76.6" lengthAdjust="spacingAndGlyphs">Months from midostaurin</text>
<text x="369.15" y="330.43" font-size="5.1" text-anchor="start" font-weight="bold" fill="#111">#03</text>
<line x1="473.30" y1="341.80" x2="483.00" y2="341.80" stroke="#1f2d4a" stroke-width="1.5" stroke-linecap="butt"/>
<text x="486.90" y="343.73" font-size="5.4" text-anchor="start" font-weight="normal" fill="#111">KIT D816V</text>
<line x1="473.30" y1="349.60" x2="483.00" y2="349.60" stroke="#33224a" stroke-width="1.5" stroke-linecap="butt"/>
<text x="486.90" y="351.53" font-size="5.4" text-anchor="start" font-weight="normal" fill="#111">TET2</text>
<line x1="473.30" y1="356.20" x2="483.00" y2="356.20" stroke="#c9c9c9" stroke-width="1.5" stroke-linecap="butt"/>
<text x="486.90" y="358.13" font-size="5.4" text-anchor="start" font-weight="normal" fill="#111">SRSF2</text>
<line x1="473.30" y1="362.90" x2="483.00" y2="362.90" stroke="#8e1436" stroke-width="1.5" stroke-linecap="butt"/>
<text x="486.90" y="364.83" font-size="5.4" text-anchor="start" font-weight="normal" fill="#111">RUNX1</text>
<line x1="473.30" y1="369.80" x2="483.00" y2="369.80" stroke="#a98044" stroke-width="1.5" stroke-linecap="butt"/>
<text x="486.90" y="371.73" font-size="5.4" text-anchor="start" font-weight="normal" fill="#111">KRAS</text>
<line x1="473.30" y1="377.30" x2="483.00" y2="377.30" stroke="#86b4e0" stroke-width="1.5" stroke-linecap="butt"/>
<text x="486.90" y="379.23" font-size="5.4" text-anchor="start" font-weight="normal" fill="#111">SETBP1</text>
<text class="ann" x="446.30" y="324.35" font-size="4.6" text-anchor="middle" font-weight="normal" fill="#222" textLength="62.4" lengthAdjust="spacingAndGlyphs">*stop midostaurin/start cladribine</text>
<text class="ann" x="446.50" y="329.55" font-size="4.6" text-anchor="middle" font-weight="normal" fill="#222" textLength="55.2" lengthAdjust="spacingAndGlyphs">*stop cladribine after 6 cycles</text>
<text class="ann" x="446.80" y="334.55" font-size="4.6" text-anchor="middle" font-weight="normal" fill="#222" textLength="39.3" lengthAdjust="spacingAndGlyphs">*start 5-azacytidine</text>
<text class="ann" x="489.40" y="332.05" font-size="4.6" text-anchor="start" font-weight="normal" fill="#222" textLength="11.5" lengthAdjust="spacingAndGlyphs">*death</text>
<text x="8.00" y="17.01" font-size="11.2" text-anchor="start" font-weight="bold" fill="#000">A</text>
<text x="7.70" y="121.01" font-size="11.2" text-anchor="start" font-weight="bold" fill="#000">B</text>
<text x="350.90" y="121.31" font-size="11.2" text-anchor="start" font-weight="bold" fill="#000">C</text>
<text x="8.00" y="226.31" font-size="11.2" text-anchor="start" font-weight="bold" fill="#000">D</text>
<text x="8.30" y="330.91" font-size="11.2" text-anchor="start" font-weight="bold" fill="#000">E</text>
</g>
<rect x="0.5" y="0.6" width="518.9" height="414.2" fill="none" stroke="#000" stroke-width="1.2"/>
<line x1="0" y1="415" x2="520" y2="415" stroke="#000" stroke-width="2"/>
<line x1="0" y1="0.7" x2="520" y2="0.7" stroke="#000" stroke-width="1.4"/>
<line x1="0.65" y1="0" x2="0.65" y2="416" stroke="#000" stroke-width="1.3"/>
<line x1="519.2" y1="0" x2="519.2" y2="416" stroke="#000" stroke-width="1.6"/>
</svg></div></body></html>
